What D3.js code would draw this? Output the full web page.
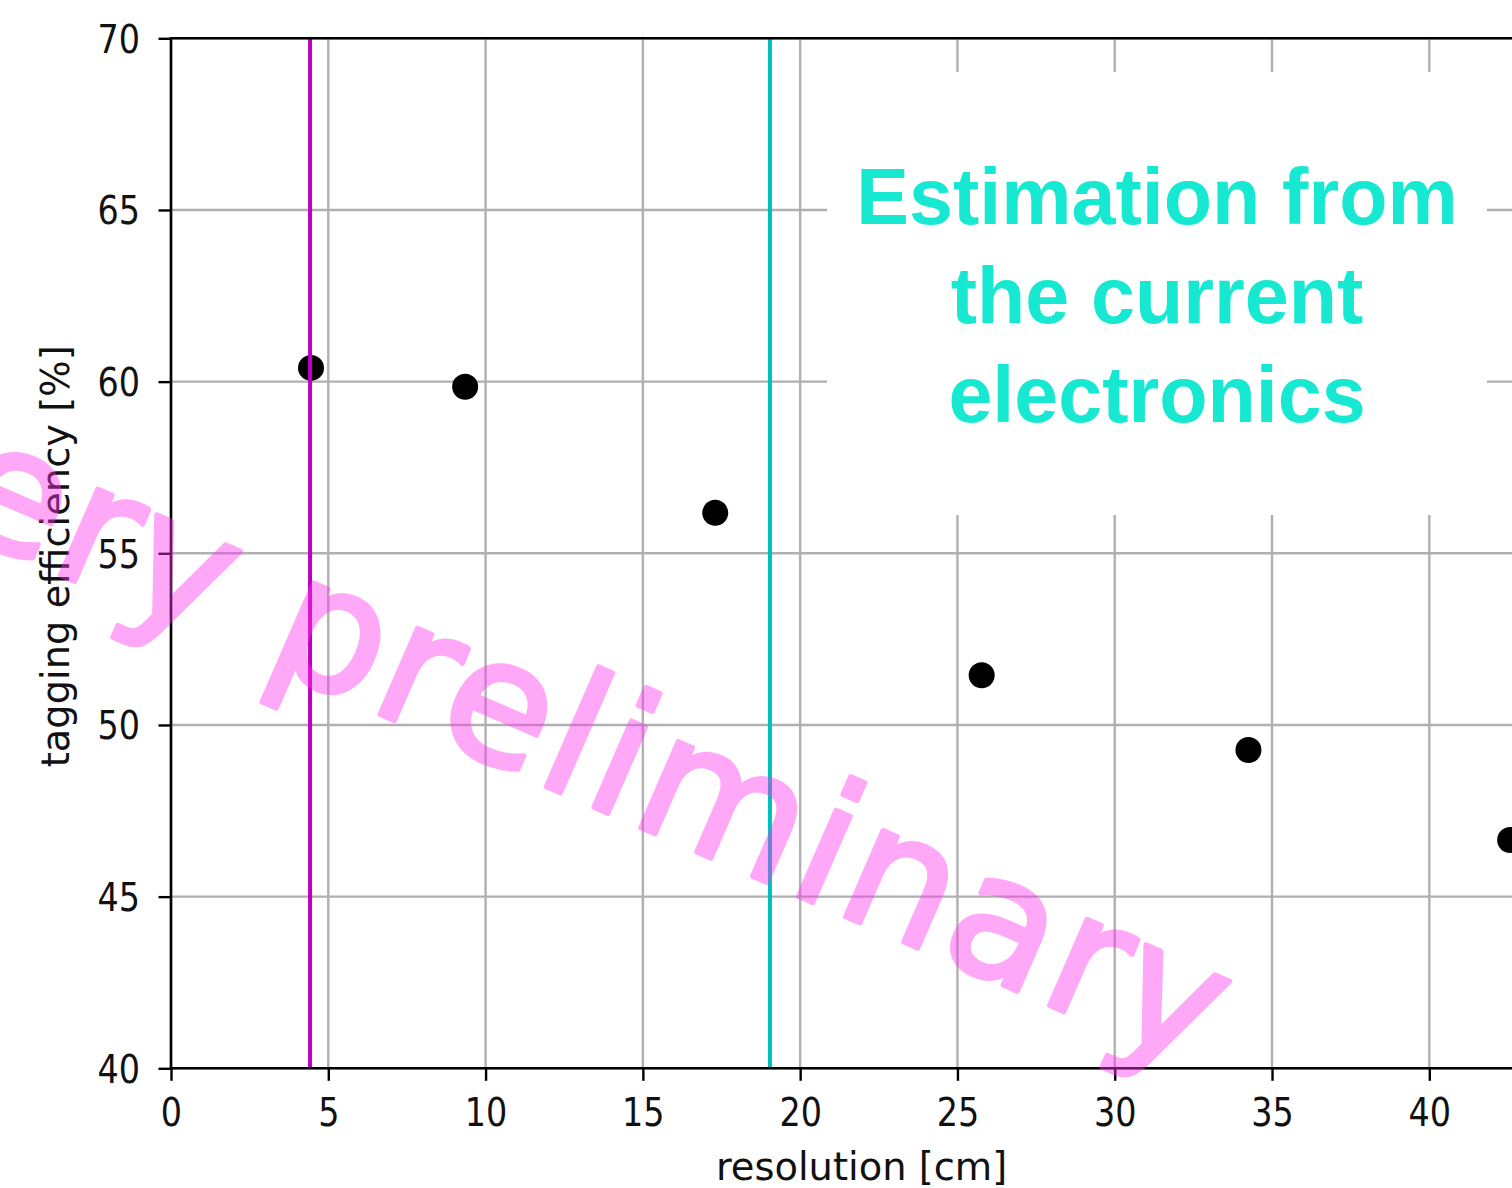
<!DOCTYPE html>
<html>
<head>
<meta charset="utf-8">
<script src="https://cdn.jsdelivr.net/npm/d3@7"></script>
<style>
  html, body { margin: 0; padding: 0; background: #fff; overflow: hidden; }
  svg { display: block; }
</style>
</head>
<body>
<svg id="chart" width="1512" height="1188"></svg>
<script>
// Tagging efficiency versus position resolution
const resolution = [4.45, 9.35, 17.3, 25.77, 34.25, 42.57];
const efficiency = [60.4, 59.85, 56.18, 51.45, 49.27, 46.65];
const xTicks = [0, 5, 10, 15, 20, 25, 30, 35, 40];
const yTicks = [40, 45, 50, 55, 60, 65, 70];
const markerPositions = [4.42, 19.04];
const markerColors = ["#bf00bf", "#00bfbf"];
const noteLines = ["Estimation from", "the current", "electronics"];
const watermarkWords = ["very", "preliminary"];

const svg = d3.select("#chart");
const W = 1512, H = 1188;
const plotLeft = 171, plotTop = 38.3, plotBottom = 1068.3, plotRight = 1552;

const x = d3.scaleLinear().domain([0, 43.9]).range([plotLeft, plotRight]);
const y = d3.scaleLinear().domain([40, 70]).range([plotBottom, plotTop]);

const sx = 0.87; // narrow glyph width for tick numbers
const tickColor = "#000";

// grid
const grid = svg.append("g");
grid.selectAll("line.gx").data(xTicks).join("line")
  .attr("x1", d => x(d)).attr("x2", d => x(d))
  .attr("y1", plotTop).attr("y2", plotBottom)
  .attr("stroke", "#b0b0b0").attr("stroke-width", 2.4);
grid.selectAll("line.gy").data(yTicks).join("line")
  .attr("x1", plotLeft).attr("x2", plotRight)
  .attr("y1", d => y(d)).attr("y2", d => y(d))
  .attr("stroke", "#b0b0b0").attr("stroke-width", 2.4);

// data points
svg.append("g").selectAll("circle").data(resolution).join("circle")
  .attr("cx", (d) => x(d))
  .attr("cy", (d, i) => y(efficiency[i]))
  .attr("r", 13)
  .attr("fill", "#000");

// vertical reference lines
svg.append("g").selectAll("line").data(markerPositions).join("line")
  .attr("x1", d => x(d)).attr("x2", d => x(d))
  .attr("y1", plotTop).attr("y2", plotBottom)
  .attr("stroke", (d, i) => markerColors[i])
  .attr("stroke-width", 4);

// axes
const xAxis = d3.axisBottom(x).tickValues(xTicks).tickSize(12.5).tickSizeOuter(0).tickFormat(d3.format("d"));
const gx = svg.append("g").attr("transform", `translate(0,${plotBottom})`).call(xAxis);
gx.select(".domain").remove();
gx.selectAll(".tick line").attr("stroke", tickColor).attr("stroke-width", 2.4);
gx.selectAll(".tick text")
  .attr("y", 0).attr("dy", null)
  .attr("transform", `translate(0,58) scale(${sx},1)`)
  .attr("font-family", "DejaVu Sans").attr("font-size", 38.4).attr("fill", "#111");

const yAxis = d3.axisLeft(y).tickValues(yTicks).tickSize(12.5).tickSizeOuter(0).tickFormat(d3.format("d"));
const gy = svg.append("g").attr("transform", `translate(${plotLeft},0)`).call(yAxis);
gy.select(".domain").remove();
gy.selectAll(".tick line").attr("stroke", tickColor).attr("stroke-width", 2.4);
gy.selectAll(".tick text")
  .attr("x", 0).attr("dy", null).attr("y", 0)
  .attr("transform", `translate(-31,14) scale(${sx},1)`)
  .attr("text-anchor", "end")
  .attr("font-family", "DejaVu Sans").attr("font-size", 38.4).attr("fill", "#111");

// spines
const spines = svg.append("g").attr("stroke", "#000").attr("stroke-width", 2.6).attr("fill", "none");
spines.append("line").attr("x1", plotLeft).attr("x2", plotLeft).attr("y1", plotTop - 1.3).attr("y2", plotBottom + 1.3);
spines.append("line").attr("x1", plotLeft).attr("x2", W + 10).attr("y1", plotTop).attr("y2", plotTop);
spines.append("line").attr("x1", plotLeft).attr("x2", W + 10).attr("y1", plotBottom).attr("y2", plotBottom);

// axis titles
svg.append("text")
  .attr("transform", `translate(${(plotLeft + plotRight) / 2},1180)`)
  .attr("text-anchor", "middle")
  .attr("font-family", "DejaVu Sans").attr("font-size", 38.4).attr("fill", "#111")
  .text("resolution [cm]");
svg.append("text")
  .attr("transform", `translate(69,${(plotTop + plotBottom) / 2 + 3}) rotate(-90)`)
  .attr("text-anchor", "middle")
  .attr("font-family", "DejaVu Sans").attr("font-size", 38.4).attr("fill", "#111")
  .text("tagging efficiency [%]");

// annotation panel
svg.append("rect")
  .attr("x", 827).attr("y", 72).attr("width", 660).attr("height", 443)
  .attr("fill", "#fff");
svg.append("g").selectAll("text").data(noteLines).join("text")
  .attr("x", 1157)
  .attr("y", (d, i) => 224 + i * 99)
  .attr("text-anchor", "middle")
  .attr("font-family", "Liberation Sans, Arial, sans-serif")
  .attr("font-weight", "bold")
  .attr("font-size", 79)
  .attr("fill", "#16e8d2")
  .text(d => d);

// watermark
const wm = svg.append("g")
  .attr("opacity", 0.42)
  .attr("transform", "translate(262,663) rotate(23.5)");
const wmStyle = sel => sel
  .attr("font-family", "DejaVu Sans")
  .attr("font-size", 172)
  .attr("letter-spacing", 4)
  .attr("fill", "#ff33f0")
  .attr("stroke", "#ff33f0")
  .attr("stroke-width", 5)
  .attr("stroke-linejoin", "round");
wm.append("text").attr("x", -55).attr("y", 0).attr("text-anchor", "end").call(wmStyle).text(watermarkWords[0]);
wm.append("text").attr("x", 0).attr("y", 0).attr("text-anchor", "start").call(wmStyle).text(watermarkWords[1]);
</script>
</body>
</html>
